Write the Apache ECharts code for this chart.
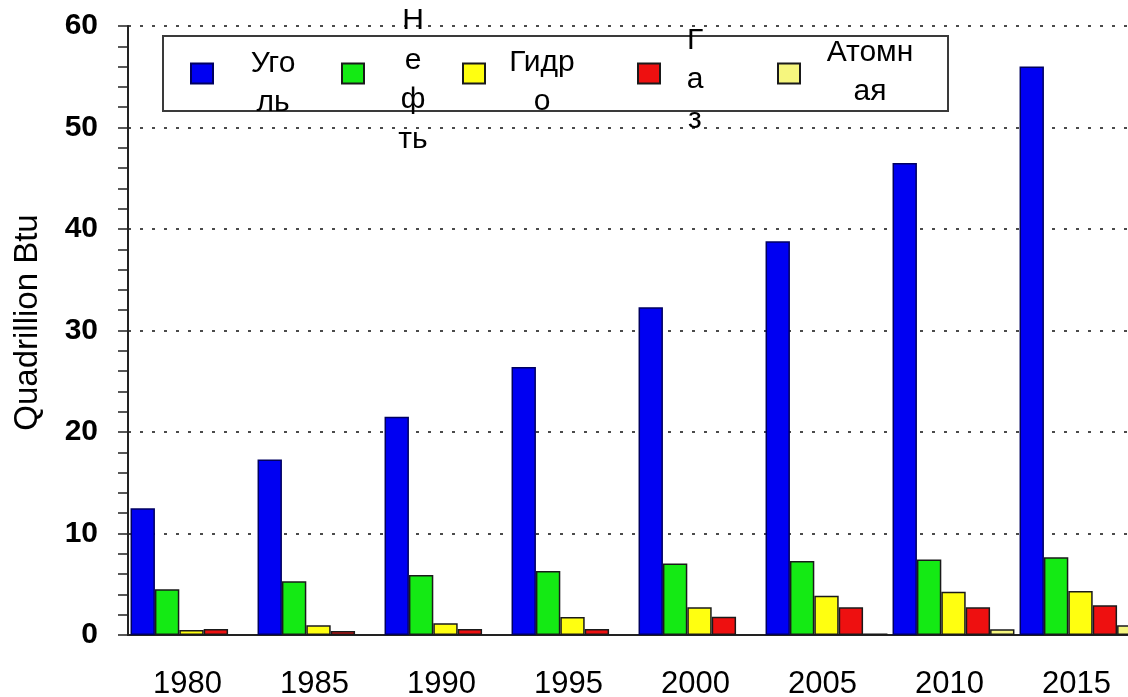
<!DOCTYPE html>
<html>
<head>
<meta charset="utf-8">
<script src="https://cdn.jsdelivr.net/npm/echarts@6/dist/echarts.min.js"></script>
<style>
  html, body { margin: 0; padding: 0; background: #fff; }
  #chart { width: 1128px; height: 697px; }
</style>
</head>
<body>
<div id="chart"></div>
<script>
// ---- data ----
const categories = ['1980', '1985', '1990', '1995', '2000', '2005', '2010', '2015'];
const seriesNames = ['Уголь', 'Нефть', 'Гидро', 'Газ', 'Атомная'];
const coal    = [12.5, 17.3, 21.5, 26.4, 32.3, 38.8, 46.5, 56.0];
const oil     = [4.5, 5.3, 5.9, 6.3, 7.05, 7.3, 7.45, 7.65];
const hydro   = [0.5, 0.95, 1.15, 1.77, 2.73, 3.87, 4.27, 4.33];
const gas     = [0.59, 0.39, 0.59, 0.59, 1.8, 2.73, 2.73, 2.93];
const nuclear = [null, null, null, null, null, 0.15, 0.56, 0.95];
const yTicks  = [0, 10, 20, 30, 40, 50, 60];
const yAxisName = 'Quadrillion Btu';
// wrapped legend labels as they appear in the picture
const legendLines = [['Уго', 'ль'], ['Н', 'е', 'ф', 'ть'], ['Гидр', 'о'], ['Г', 'а', 'з'], ['Атомн', 'ая']];

// ---- styling ----
const colors = ['#0000f2', '#14ea14', '#ffff10', '#ee1010', '#f6f67e'];
const seriesData = [coal, oil, hydro, gas, nuclear];
const FONT = 'Liberation Sans, Arial, sans-serif';

const chart = echarts.init(document.getElementById('chart'), null, { renderer: 'canvas' });

// legend item placement: [iconLeft, textCenterX, topPad, bottomPad]
const legendPlace = [
  [190, 272, 19, 0],
  [341, 412, 13, 0],
  [462, 541, 17, 0],
  [637, 694, 13, 0],
  [777, 869, 0, 3]
];
const LH = 39.5, ICON_W = 22, ICON_H = 20, ICON_CY = 73.5, LFS = 30;

const legends = seriesNames.map((name, i) => {
  const [iconLeft, cx, pt, pb] = legendPlace[i];
  const textX = iconLeft + ICON_W + 5;
  const W = 2 * (cx - textX);
  const n = legendLines[i].length;
  const blockH = n * LH + pt + pb;
  const top = ICON_CY - blockH / 2;
  return {
    data: [name],
    left: iconLeft,
    top: top,
    padding: 0,
    itemWidth: ICON_W,
    itemHeight: ICON_H,
    icon: 'rect',
    selectedMode: false,
    formatter: () => legendLines[i].map(s => '{c|' + s + '}').join('\n'),
    textStyle: {
      fontFamily: FONT,
      fontSize: LFS,
      color: '#000',
      lineHeight: LH,
      padding: [pt, 0, pb, 0],
      rich: {
        c: { width: W, align: 'center', fontSize: LFS, lineHeight: LH, color: '#000', fontFamily: FONT }
      }
    }
  };
});

const option = {
  animation: false,
  backgroundColor: '#ffffff',
  grid: { left: 128, top: 26, right: -16, bottom: 62, containLabel: false, outerBoundsMode: 'none' },
  legend: legends,
  graphic: [{
    type: 'rect',
    z: 1,
    shape: { x: 163, y: 36, width: 785, height: 75 },
    style: { fill: '#ffffff', stroke: '#3a3a3a', lineWidth: 2 }
  }],
  xAxis: {
    type: 'category',
    data: categories,
    axisLine: { lineStyle: { color: '#222', width: 2 } },
    axisTick: { show: false },
    axisLabel: {
      margin: 34,
      padding: [0, 8, 0, 0],
      fontFamily: FONT,
      fontSize: 31,
      color: '#000'
    },
    splitLine: { show: false }
  },
  yAxis: {
    type: 'value',
    min: yTicks[0],
    max: yTicks[yTicks.length - 1],
    interval: 10,
    name: yAxisName,
    nameLocation: 'middle',
    nameGap: 84,
    nameRotate: 90,
    nameTextStyle: {
      fontFamily: FONT,
      fontSize: 33,
      color: '#000',
      padding: [0, 0, 0, 16]
    },
    axisLine: { show: true, lineStyle: { color: '#222', width: 2 } },
    axisTick: { show: true, length: 10, lineStyle: { color: '#222', width: 1.5 } },
    minorTick: { show: true, splitNumber: 5, length: 10, lineStyle: { color: '#222', width: 1.5 } },
    axisLabel: {
      margin: 30,
      fontFamily: FONT,
      fontWeight: 'bold',
      fontSize: 30,
      color: '#000'
    },
    splitLine: { show: true, lineStyle: { color: '#111', width: 1.5, type: [3, 9] } },
    minorSplitLine: { show: false }
  },
  series: seriesNames.map((name, i) => ({
    name: name,
    type: 'bar',
    data: seriesData[i],
    barGap: '0%',
    barCategoryGap: '4%',
    itemStyle: {
      color: colors[i],
      borderColor: i === 0 ? '#000060' : '#1a1a1a',
      borderWidth: 1.5
    }
  }))
};

chart.setOption(option);
</script>
</body>
</html>
